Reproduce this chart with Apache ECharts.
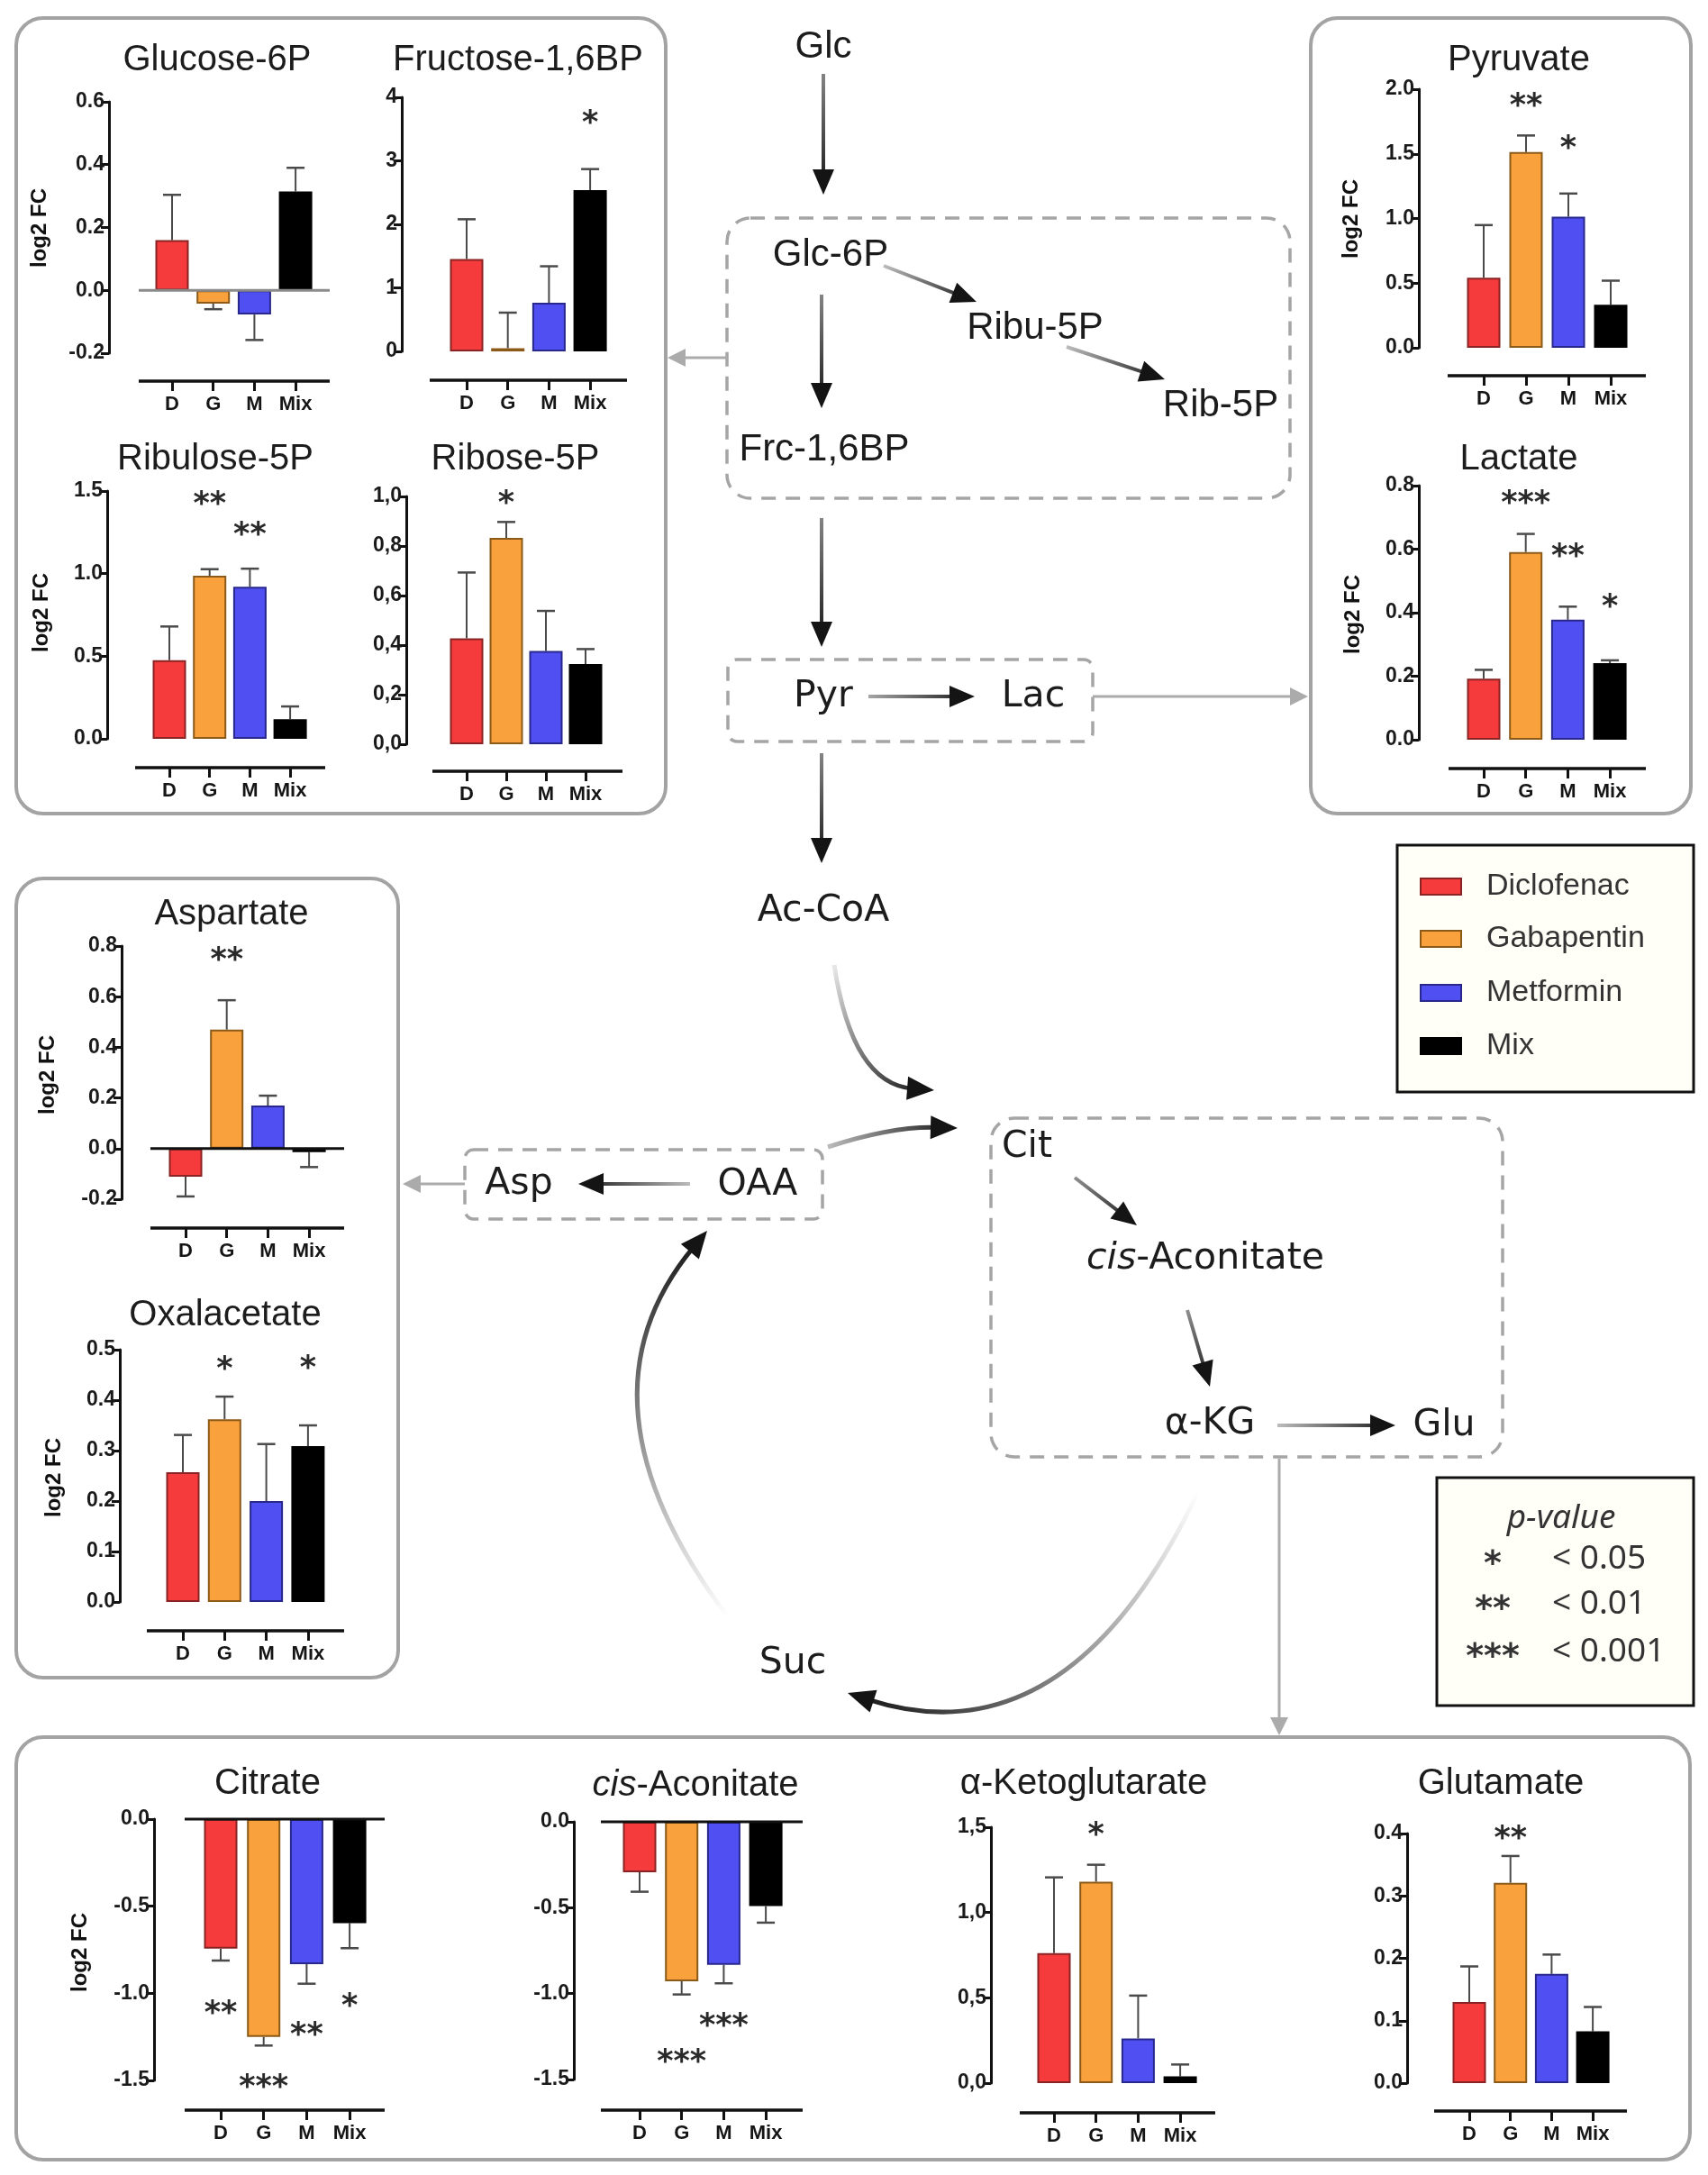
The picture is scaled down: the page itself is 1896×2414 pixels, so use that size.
<!DOCTYPE html>
<html><head><meta charset="utf-8">
<script src="https://cdn.jsdelivr.net/npm/echarts@6/dist/echarts.min.js"></script>
<style>html,body{margin:0;padding:0;background:#fff}#c{width:1896px;height:2414px}</style>
</head><body><div id="c"></div>
<script>
// ---------------- DATA ----------------
const categories = ['D', 'G', 'M', 'Mix'];
const groupNames = ['Diclofenac', 'Gabapentin', 'Metformin', 'Mix'];

// bar heights (mean log2 FC) and the end of each one-sided error bar
const glc6pMean = [0.16, -0.042, -0.077, 0.315];
const glc6pErr  = [0.304, -0.06, -0.158, 0.39];
const glc6pStars = [];
const glc6pTicks = [-0.2, 0, 0.2, 0.4, 0.6];

const fbpMean = [1.455, 0.05, 0.765, 2.54];
const fbpErr  = [2.08, 0.61, 1.34, 2.87];
const fbpStars = [[3, 3.69, '*']];
const fbpTicks = [0, 1, 2, 3, 4];

const ru5pMean = [0.476, 0.987, 0.92, 0.118];
const ru5pErr  = [0.68, 1.027, 1.03, 0.196];
const ru5pStars = [[1, 1.457, '**'], [2, 1.273, '**']];
const ru5pTicks = [0, 0.5, 1.0, 1.5];

const r5pMean = [0.427, 0.833, 0.376, 0.324];
const r5pErr  = [0.693, 0.897, 0.538, 0.384];
const r5pStars = [[1, 0.997, '*']];
const r5pTicks = [0, 0.2, 0.4, 0.6, 0.8, 1.0];

const pyrMean = [0.542, 1.514, 1.014, 0.333];
const pyrErr  = [0.949, 1.642, 1.193, 0.519];
const pyrStars = [[1, 1.92, '**'], [2, 1.59, '*']];
const pyrTicks = [0, 0.5, 1.0, 1.5, 2.0];

const lacMean = [0.192, 0.591, 0.378, 0.241];
const lacErr  = [0.22, 0.648, 0.419, 0.25];
const lacStars = [[1, 0.764, '***'], [2, 0.595, '**'], [3, 0.438, '*']];
const lacTicks = [0, 0.2, 0.4, 0.6, 0.8];

const aspMean = [-0.111, 0.47, 0.17, -0.014];
const aspErr  = [-0.189, 0.586, 0.209, -0.073];
const aspStars = [[1, 0.767, '**']];
const aspTicks = [-0.2, 0, 0.2, 0.4, 0.6, 0.8];

const oaaMean = [0.257, 0.362, 0.2, 0.309];
const oaaErr  = [0.331, 0.407, 0.313, 0.35];
const oaaStars = [[1, 0.473, '*'], [3, 0.476, '*']];
const oaaTicks = [0, 0.1, 0.2, 0.3, 0.4, 0.5];

const citMean = [-0.743, -1.25, -0.833, -0.597];
const citErr  = [-0.812, -1.30, -0.945, -0.741];
const citStars = [[0, -1.083, '**'], [1, -1.505, '***'], [2, -1.207, '**'], [3, -1.04, '*']];
const citTicks = [-1.5, -1.0, -0.5, 0];

const aconMean = [-0.294, -0.928, -0.832, -0.491];
const aconErr  = [-0.407, -1.005, -0.94, -0.587];
const aconStars = [[2, -1.152, '***'], [1, -1.362, '***']];
const aconTicks = [-1.5, -1.0, -0.5, 0];

const akgMean = [0.762, 1.18, 0.262, 0.039];
const akgErr  = [1.206, 1.28, 0.513, 0.109];
const akgStars = [[1, 1.489, '*']];
const akgTicks = [0, 0.5, 1.0, 1.5];

const gluMean = [0.13, 0.321, 0.175, 0.083];
const gluErr  = [0.187, 0.364, 0.206, 0.122];
const gluStars = [[1, 0.402, '**']];
const gluTicks = [0, 0.1, 0.2, 0.3, 0.4];

const pRows = [['*', '< 0.05'], ['**', '< 0.01'], ['***', '< 0.001']];

// ---------------- STYLE / LAYOUT ----------------
const fills   = ['#f53b3b', '#f9a13c', '#5050f2', '#000000'];
const borders = ['#8a2424', '#8c5a18', '#27278c', '#000000'];
const FONT = '"Liberation Sans", Arial, sans-serif';
const DV = '"DejaVu Sans", Verdana, sans-serif';
const INK = '#1c1c1c';

const charts = [
  {title:'Glucose-6P', mean:glc6pMean, err:glc6pErr, stars:glc6pStars, ticks:glc6pTicks, dec:1, sep:'.', ax:121, top:113, bot:392, t0:191, sp:45.7, xl:[154,366,423], tp:[241,67], yl:[44,253], zero:'#8a8a8a'},
  {title:'Fructose-1,6BP', mean:fbpMean, err:fbpErr, stars:fbpStars, ticks:fbpTicks, dec:0, sep:'.', ax:446, top:108, bot:390, t0:518, sp:45.7, xl:[477,696,422], tp:[575,67]},
  {title:'Ribulose-5P', mean:ru5pMean, err:ru5pErr, stars:ru5pStars, ticks:ru5pTicks, dec:1, sep:'.', ax:119, top:545, bot:820, t0:188, sp:44.7, xl:[150,361,852], tp:[239,510], yl:[46,680]},
  {title:'Ribose-5P', mean:r5pMean, err:r5pErr, stars:r5pStars, ticks:r5pTicks, dec:1, sep:',', ax:451, top:551, bot:826, t0:518, sp:44, xl:[480,691,856], tp:[572,510]},
  {title:'Pyruvate', mean:pyrMean, err:pyrErr, stars:pyrStars, ticks:pyrTicks, dec:1, sep:'.', ax:1575, top:99, bot:386, t0:1647, sp:47, xl:[1607,1827,417], tp:[1686,67], yl:[1500,243]},
  {title:'Lactate', mean:lacMean, err:lacErr, stars:lacStars, ticks:lacTicks, dec:1, sep:'.', ax:1575, top:539, bot:821, t0:1647, sp:46.7, xl:[1608,1827,853], tp:[1686,510], yl:[1502,682]},
  {title:'Aspartate', mean:aspMean, err:aspErr, stars:aspStars, ticks:aspTicks, dec:1, sep:'.', ax:135, top:1050, bot:1331, t0:206, sp:45.7, xl:[167,382,1363], tp:[257,1015], yl:[53,1193], zero:'#111'},
  {title:'Oxalacetate', mean:oaaMean, err:oaaErr, stars:oaaStars, ticks:oaaTicks, dec:1, sep:'.', ax:133, top:1498, bot:1778, t0:203, sp:46.3, xl:[163,382,1810], tp:[250,1460], yl:[60,1640]},
  {title:'Citrate', mean:citMean, err:citErr, stars:citStars, ticks:citTicks, dec:1, sep:'.', ax:171, top:2019, bot:2309, t0:245, sp:47.7, xl:[205,427,2342], tp:[297,1980], yl:[89,2167], zero:'#111'},
  {title:'{i|cis}-Aconitate', mean:aconMean, err:aconErr, stars:aconStars, ticks:aconTicks, dec:1, sep:'.', ax:637, top:2022, bot:2308, t0:710, sp:46.7, xl:[667,891,2342], tp:[772,1982], zero:'#111'},
  {title:'α-Ketoglutarate', mean:akgMean, err:akgErr, stars:akgStars, ticks:akgTicks, dec:1, sep:',', ax:1100, top:2028, bot:2312, t0:1170, sp:46.7, xl:[1132,1349,2345], tp:[1203,1980]},
  {title:'Glutamate', mean:gluMean, err:gluErr, stars:gluStars, ticks:gluTicks, dec:1, sep:'.', ax:1562, top:2035, bot:2312, t0:1631, sp:45.7, xl:[1592,1806,2343], tp:[1666,1980]}
];

const chart = echarts.init(document.getElementById('c'), null, {renderer:'canvas', width:1896, height:2414});

const grid = [], xAxis = [], yAxis = [], series = [];
charts.forEach((c, i) => {
  const gl = c.t0 - c.sp / 2;
  const t = c.ticks;
  const interval = +(t[1] - t[0]).toFixed(6);
  grid.push({left: gl, top: c.top, width: 4 * c.sp, height: c.bot - c.top});
  xAxis.push({gridIndex:i, type:'category', data:categories, position:'bottom', offset:c.xl[2]-c.bot,
    axisLine:{show:false, onZero:false},
    axisTick:{show:true, alignWithLabel:true, interval:0, length:11, lineStyle:{color:'#111', width:3}},
    axisLabel:{interval:0, hideOverlap:false, fontFamily:FONT, fontWeight:'bold', fontSize:22, color:'#151515', margin:15},
    splitLine:{show:false}});
  yAxis.push({gridIndex:i, type:'value', min:t[0], max:t[t.length-1], interval:interval, offset:gl-c.ax,
    axisLine:{show:true, onZero:false, lineStyle:{color:'#111', width:3}},
    axisTick:{show:true, length:9, lineStyle:{color:'#111', width:3}},
    axisLabel:{fontFamily:FONT, fontWeight:'bold', fontSize:23, color:'#1a1a1a', margin:5,
      formatter: v => (Math.abs(v) < 1e-9 ? 0 : v).toFixed(c.dec).replace('.', c.sep)},
    splitLine:{show:false}});
  series.push({type:'bar', xAxisIndex:i, yAxisIndex:i, barWidth:37, silent:true, z:3,
    data: c.mean.map((v, j) => ({value:v, itemStyle:{color:fills[j], borderColor:borders[j], borderWidth:2}}))});
  series.push({type:'custom', xAxisIndex:i, yAxisIndex:i, silent:true, z:2,
    data: c.mean.map((v, j) => [j, v, c.err[j]]),
    renderItem: (p, api) => {
      const a = api.coord([api.value(0), api.value(1)]);
      const b = api.coord([api.value(0), api.value(2)]);
      return {type:'group', children:[
        {type:'line', shape:{x1:a[0], y1:a[1], x2:b[0], y2:b[1]}, style:{stroke:'#4a4a4a', lineWidth:2}},
        {type:'line', shape:{x1:b[0]-10, y1:b[1], x2:b[0]+10, y2:b[1]}, style:{stroke:'#4a4a4a', lineWidth:2.5}}
      ]};
    }});
  if (c.stars.length) {
    series.push({type:'custom', xAxisIndex:i, yAxisIndex:i, silent:true, z:4,
      data: c.stars.map(s => [s[0], s[1]]),
      renderItem: (p, api) => {
        const pt = api.coord([api.value(0), api.value(1)]);
        return {type:'text', x:pt[0], y:pt[1] + 8,
          style:{text:c.stars[p.dataIndex][2], align:'center', verticalAlign:'middle',
            fontFamily:DV, fontWeight:'bold', fontSize:35, fill:'#2a2a2a'}};
      }});
  }
});

chart.setOption({animation:false, backgroundColor:'#ffffff', grid, xAxis, yAxis, series});

// ---------------- DECORATION (boxes, pathway, legends) ----------------
const G = [];
function txt(x, y, s, o) {
  o = o || {};
  G.push({type:'text', x:x, y:y, z:10, rotation:o.rot || 0,
    style:{text:s, align:o.align || 'center', verticalAlign:'middle',
      fontFamily:o.ff || FONT, fontSize:o.fs || 40, fontWeight:o.fw || 'normal', fontStyle:o.fst || 'normal',
      fill:o.fill || INK, rich:o.rich}});
}
function box(x, y, w, h, r, o) {
  o = o || {};
  G.push({type:'rect', z:o.z || 1, shape:{x:x, y:y, width:w, height:h, r:r},
    style:{fill:o.fill || 'none', stroke:o.stroke || '#a3a3a3', lineWidth:o.lw || 4, lineDash:o.dash || null}});
}
function line(x1, y1, x2, y2, color, lw) {
  G.push({type:'line', z:5, shape:{x1:x1, y1:y1, x2:x2, y2:y2}, style:{stroke:color, lineWidth:lw}});
}
function head(x, y, ang, len, hw, color) {
  const c = Math.cos(ang), s = Math.sin(ang);
  G.push({type:'polygon', z:6, shape:{points:[[x, y],
    [x - len*c + hw*s, y - len*s - hw*c], [x - len*c - hw*s, y - len*s + hw*c]]}, style:{fill:color}});
}
function grad(x1, y1, x2, y2, a0) {
  return {type:'linear', global:true, x:x1, y:y1, x2:x2, y2:y2,
    colorStops:[{offset:0, color:'rgba(30,30,30,' + a0 + ')'}, {offset:1, color:'#141414'}]};
}
function arrow(x1, y1, x2, y2, o) {
  o = o || {};
  const ang = Math.atan2(y2 - y1, x2 - x1), len = o.len || 28, hw = o.hw || 12;
  const ex = x2 - Math.cos(ang) * len * 0.8, ey = y2 - Math.sin(ang) * len * 0.8;
  const stroke = o.grey ? '#ababab' : grad(x1, y1, x2, y2, o.a0 == null ? 0.55 : o.a0);
  G.push({type:'line', z:5, shape:{x1:x1, y1:y1, x2:ex, y2:ey}, style:{stroke:stroke, lineWidth:o.lw || 4}});
  head(x2, y2, ang, len, hw, o.grey ? '#ababab' : '#141414');
}
function curve(x1, y1, cx, cy, x2, y2, o) {
  o = o || {};
  const ang = Math.atan2(y2 - cy, x2 - cx), len = 30, hw = 13;
  const ex = x2 - Math.cos(ang) * len * 0.8, ey = y2 - Math.sin(ang) * len * 0.8;
  G.push({type:'bezierCurve', z:5, shape:{x1:x1, y1:y1, cpx1:cx, cpy1:cy, x2:ex, y2:ey},
    style:{fill:'none', stroke:grad(x1, y1, x2, y2, o.a0 == null ? 0.0 : o.a0), lineWidth:o.lw || 5}});
  head(x2, y2, ang, len, hw, '#141414');
}

// panel boxes
box(18, 20, 721, 883, 30);
box(1455, 20, 422, 883, 30);
box(18, 975, 424, 887, 30);
box(18, 1928, 1858, 469, 30);

// chart titles, y-axis names, x-axis baselines
charts.forEach(c => {
  txt(c.tp[0], c.tp[1], c.title, {fs:40, rich:{i:{fontStyle:'italic', fontSize:40, fontFamily:FONT, fill:INK}}});
  if (c.yl) txt(c.yl[0], c.yl[1], 'log2 FC', {fs:24, fw:'bold', rot:Math.PI/2, fill:'#111'});
  line(c.xl[0], c.xl[2], c.xl[1], c.xl[2], '#111', 3.5);
});
charts.forEach((c, i) => {
  if (c.zero) {
    const y0 = chart.convertToPixel({yAxisIndex:i}, 0);
    line(c.xl[0], y0, c.xl[1], y0, c.zero, 3);
  }
});

// pathway: dashed compartments
const dash = {dash:[16, 11], lw:3.5, stroke:'#a5a5a5'};
box(807, 242, 625, 311, 26, dash);
box(808, 732, 405, 91, 10, dash);
box(1100, 1241, 568, 376, 26, dash);
box(516, 1276, 397, 77, 10, dash);

// pathway labels
txt(914, 52, 'Glc', {fs:42});
txt(922, 283, 'Glc-6P', {fs:42});
txt(1149, 364, 'Ribu-5P', {fs:42});
txt(1355, 450, 'Rib-5P', {fs:42});
txt(915, 499, 'Frc-1,6BP', {fs:42});
txt(914, 773, 'Pyr', {fs:41, ff:DV});
txt(1147, 773, 'Lac', {fs:41, ff:DV});
txt(914, 1011, 'Ac-CoA', {fs:41, ff:DV});
txt(1140, 1273, 'Cit', {fs:41, ff:DV});
txt(1338, 1397, '{i|cis}-Aconitate', {fs:41, ff:DV, rich:{i:{fontStyle:'italic', fontSize:41, fontFamily:DV, fill:INK}}});
txt(1343, 1580, 'α-KG', {fs:41, ff:DV});
txt(1603, 1582, 'Glu', {fs:41, ff:DV});
txt(880, 1846, 'Suc', {fs:41, ff:DV});
txt(841, 1315, 'OAA', {fs:41, ff:DV});
txt(576, 1314, 'Asp', {fs:41, ff:DV});

// pathway arrows
arrow(914, 82, 914, 216);
arrow(981, 295, 1084, 335, {a0:0.3});
arrow(1184, 385, 1293, 421, {a0:0.3});
arrow(912, 327, 912, 453);
arrow(912, 575, 912, 718);
arrow(964, 773, 1082, 773, {a0:0.4});
arrow(912, 836, 912, 958);
arrow(1193, 1307, 1262, 1360, {a0:0.5});
arrow(1318, 1454, 1343, 1539, {a0:0.5});
arrow(1418, 1582, 1549, 1582, {a0:0.3});
arrow(766, 1314, 642, 1314, {a0:0.3});
curve(926, 1071, 946, 1203, 1037, 1210, {a0:0.1});
curve(919, 1273, 990, 1250, 1063, 1252, {a0:0.3});
curve(1330, 1656, 1186, 1958, 941, 1879, {a0:0.0});
curve(808, 1795, 628, 1555, 785, 1366, {a0:0.0});
// grey links to the panels
arrow(807, 397, 741, 397, {grey:true, lw:3, len:20, hw:10});
arrow(1213, 773, 1452, 773, {grey:true, lw:3, len:20, hw:10});
arrow(516, 1314, 447, 1314, {grey:true, lw:3, len:20, hw:10});
arrow(1420, 1619, 1420, 1926, {grey:true, lw:3, len:20, hw:10});

// group legend
box(1551, 938, 329, 274, 0, {stroke:'#111', lw:3, fill:'#fffef7', z:2});
const legY = [984, 1042, 1102, 1161];
groupNames.forEach((n, j) => {
  G.push({type:'rect', z:8, shape:{x:1577, y:legY[j]-9, width:45, height:18}, style:{fill:fills[j], stroke:borders[j], lineWidth:2}});
  txt(1650, legY[j], n, {fs:34, align:'left', fill:'#333'});
});

// p-value key
box(1595, 1640, 285, 253, 0, {stroke:'#111', lw:3, fill:'#fffef7', z:2});
txt(1733, 1685, 'p-value', {fs:37, ff:'"Noto Sans", sans-serif', fst:'italic', fill:'#333'});
const pY = [1730, 1780, 1833];
pRows.forEach((r, j) => {
  txt(1657, pY[j] + 7, r[0], {fs:38, ff:DV, fw:'bold', fill:'#333'});
  txt(1723, pY[j], r[1], {fs:37, ff:'"Noto Sans", sans-serif', align:'left', fill:'#333'});
});

chart.setOption({graphic:{elements:G}});
</script></body></html>
